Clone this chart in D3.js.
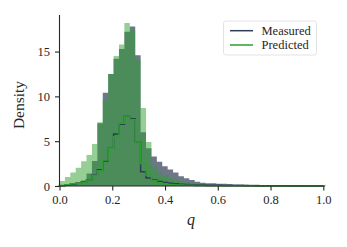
<!DOCTYPE html>
<html>
<head>
<meta charset="utf-8">
<script src="https://cdn.jsdelivr.net/npm/d3@7"></script>
<style>
html,body{margin:0;padding:0;background:#fff;}
svg{display:block;}
text{font-family:"Liberation Serif","Times New Roman",serif;fill:#262626;}
</style>
</head>
<body>
<svg id="chart" width="347" height="247"></svg>
<script>
// ---- data ----
const binWidth = 0.0205;
const binStart = 0.0;
// filled histogram: Measured
const measuredFill = [0.1,0.15,0.3,0.4,0.6,1.4,2.8,7.0,10.4,12.5,14.2,15.3,17.2,17.8,14.6,6.0,4.2,3.3,2.7,2.2,1.85,1.5,1.1,0.86,0.67,0.48,0.37,0.3,0.3,0.25,0.25,0.22,0.18,0.18,0.16,0.15,0.13,0.1,0.1,0.09,0.08,0.08,0.07,0.06,0.06,0.05,0.05,0.04,0.03];
// filled histogram: Predicted
const predictedFill = [0.55,1.0,1.5,2.05,2.75,3.45,4.7,7.1,9.6,12.5,14.5,15.8,18.2,17.4,14.1,8.7,4.9,2.2,1.5,1.2,0.9,0.7,0.5,0.4,0.3,0.22,0.18,0.14,0.12,0.1,0.09,0.08,0.07,0.06,0.05,0.05,0.04,0.04,0.03,0.03,0.03,0.02,0.02,0.02,0.02,0.01,0.01,0.01,0.01];
// step-line histograms (subset)
const measuredLine = [0.02,0.08,0.2,0.3,0.45,0.7,1.2,1.8,2.8,4.2,5.8,6.9,7.8,7.5,4.9,1.6,0.9,0.7,0.5,0.4,0.3,0.25,0.2,0.17,0.15,0.12,0.1,0.09,0.08,0.07,0.06,0.06,0.05,0.05,0.04,0.04,0.03,0.03,0.03,0.02,0.02,0.02,0.02,0.01,0.01,0.01,0.01,0.01,0.01];
const predictedLine = [0.05,0.15,0.25,0.3,0.4,0.67,1.15,1.7,2.9,4.2,5.5,7.0,7.8,7.4,4.9,2.5,1.2,0.6,0.35,0.25,0.18,0.12,0.1,0.08,0.07,0.06,0.05,0.04,0.04,0.03,0.03,0.03,0.02,0.02,0.02,0.02,0.01,0.01,0.01,0.01,0.01,0.01,0.01,0.01,0.01,0.01,0.01,0.01,0.01];
const xTicks = [0.0,0.2,0.4,0.6,0.8,1.0];
const yTicks = [0,5,10,15];
const legendLabels = ["Measured","Predicted"];
const colors = {measured:"#2f3d56", predicted:"#2ca02c"};

// ---- layout ----
const svg = d3.select("#chart");
const x = d3.scaleLinear().domain([0,1]).range([59.5,323.3]);
const y = d3.scaleLinear().domain([0,19.08]).range([186,15]);

function stepPoints(vals){
  const pts = [[binStart,0]];
  vals.forEach((v,i)=>{
    const a = binStart + i*binWidth, b = a + binWidth;
    pts.push([a,v]); pts.push([b,v]);
  });
  pts.push([binStart + vals.length*binWidth, 0]);
  return pts;
}
const area = d3.area().x(d=>x(d[0])).y0(y(0)).y1(d=>y(d[1]));
const line = d3.line().x(d=>x(d[0])).y(d=>y(d[1]));

const plot = svg.append("g");
plot.append("path").datum(stepPoints(measuredFill)).attr("d",area)
  .attr("fill",colors.measured).attr("fill-opacity",0.7);
plot.append("path").datum(stepPoints(predictedFill)).attr("d",area)
  .attr("fill",colors.predicted).attr("fill-opacity",0.5);
plot.append("path").datum(stepPoints(measuredLine)).attr("d",line)
  .attr("fill","none").attr("stroke",colors.measured).attr("stroke-width",1.5);
plot.append("path").datum(stepPoints(predictedLine)).attr("d",line)
  .attr("fill","none").attr("stroke",colors.predicted).attr("stroke-width",1.5);

// axes
const xAxis = d3.axisBottom(x).tickValues(xTicks).tickFormat(d3.format(".1f")).tickSize(4.5).tickPadding(4.5);
const gx = svg.append("g").attr("transform",`translate(0,${y(0)})`).call(xAxis);
gx.select(".domain").attr("d",`M${x(0)},0H${x(1)}`);
const yAxis = d3.axisLeft(y).tickValues(yTicks).tickSize(4.5).tickPadding(5);
const gy = svg.append("g").attr("transform",`translate(${x(0)},0)`).call(yAxis);
gy.select(".domain").attr("d",`M0,15V${y(0)}`);
[gx,gy].forEach(g=>{
  g.selectAll(".domain").attr("stroke","#262626").attr("stroke-width",1.1);
  g.selectAll(".tick line").attr("stroke","#262626").attr("stroke-width",1.1);
  g.selectAll("text").style("font-family",'"Liberation Serif",serif').style("font-size","12.5px").attr("fill","#333");
});

svg.append("text").attr("transform","translate(24,105) rotate(-90)")
  .attr("text-anchor","middle").style("font-size","15.5px").attr("fill","#333").text("Density");
svg.append("text").attr("x",191).attr("y",225).attr("text-anchor","middle")
  .style("font-size","16px").style("font-style","italic").attr("fill","#333").text("q");

// legend
const lg = svg.append("g");
lg.append("rect").attr("x",223.5).attr("y",21).attr("width",93).attr("height",34)
  .attr("rx",2.5).attr("fill","#fff").attr("fill-opacity",0.8).attr("stroke","#dcdcdc").attr("stroke-width",0.8);
const lc = [colors.measured, colors.predicted];
legendLabels.forEach((t,i)=>{
  const yy = 30.7 + i*14.3;
  lg.append("line").attr("x1",230).attr("x2",253).attr("y1",yy).attr("y2",yy)
    .attr("stroke",lc[i]).attr("stroke-width",1.5);
  lg.append("text").attr("x",261.5).attr("y",yy+3.8).style("font-size","12.5px").attr("fill","#333").text(t);
});
</script>
</body>
</html>
